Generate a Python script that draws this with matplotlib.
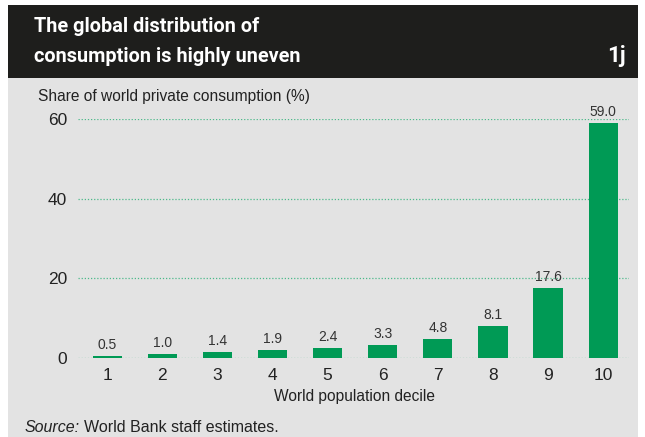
import matplotlib.pyplot as plt
from matplotlib.patches import Rectangle

# data
deciles = [1, 2, 3, 4, 5, 6, 7, 8, 9, 10]
share = [0.5, 1.0, 1.4, 1.9, 2.4, 3.3, 4.8, 8.1, 17.6, 59.0]
yticks = [0, 20, 40, 60]

title_lines = ["The global distribution of", "consumption is highly uneven"]

plt.rcParams['font.family'] = ['Liberation Sans', 'DejaVu Sans']

W, H = 645, 437
fig = plt.figure(figsize=(W / 100, H / 100), dpi=100)
fig.patch.set_facecolor("white")

# background panels (in an axes behind everything)
bg = fig.add_axes([0, 0, 1, 1], zorder=-5)
bg.set_xlim(0, W)
bg.set_ylim(H, 0)
bg.axis("off")
bg.add_patch(Rectangle((8, 78), 630, H - 78, facecolor="#e3e3e3", edgecolor="none"))
bg.add_patch(Rectangle((8, 5), 630, 73, facecolor="#1e1e1c", edgecolor="none"))

tfont = dict(family=["Roboto", "DejaVu Sans"], weight="bold", color="white", fontsize=14.3)
fig.text(34 / W, 1 - 26 / H, title_lines[0], va="center", ha="left", **tfont)
fig.text(34 / W, 1 - 56 / H, title_lines[1], va="center", ha="left", **tfont)
fig.text(626 / W, 1 - 56 / H, "1j", va="center", ha="right",
         **{**tfont, "fontsize": 16})

ax = fig.add_axes([78 / W, 1 - 358 / H, (629 - 78) / W, (358 - 119) / H], zorder=2)
ax.set_facecolor("none")
ax.bar(deciles, share, width=0.53, color="#009a55", zorder=3)
for x, v in zip(deciles, share):
    ax.text(x, v + 1.0, f"{v:.1f}", ha="center", va="bottom", fontsize=10,
            color="#333333", clip_on=False, zorder=4)

ax.set_xlim(0.47, 10.47)
ax.set_ylim(0, 60)
ax.set_yticks(yticks)
ax.set_xticks(deciles)
for y in yticks:
    ax.axhline(y, color="#4cb98a", linestyle=(0, (1, 1.5)), linewidth=0.9, zorder=1)
for s in ax.spines.values():
    s.set_visible(False)
ax.tick_params(length=0, labelsize=12.5, colors="#222222")
ax.tick_params(axis="y", pad=8)
ax.tick_params(axis="x", pad=7)

fig.text(38 / W, 1 - 97 / H, "Share of world private consumption (%)", fontsize=11.2,
         color="#222222", va="center", ha="left")
fig.text(355 / W, 1 - 397 / H, "World population decile", fontsize=11.2,
         color="#222222", va="center", ha="center")
fig.text(25 / W, 1 - 427 / H, "Source:", fontsize=11.5, style="italic",
         color="#222222", va="center", ha="left")
fig.text(84 / W, 1 - 427 / H, "World Bank staff estimates.", fontsize=11.5,
         color="#222222", va="center", ha="left")

fig.savefig("out.png", dpi=100)
